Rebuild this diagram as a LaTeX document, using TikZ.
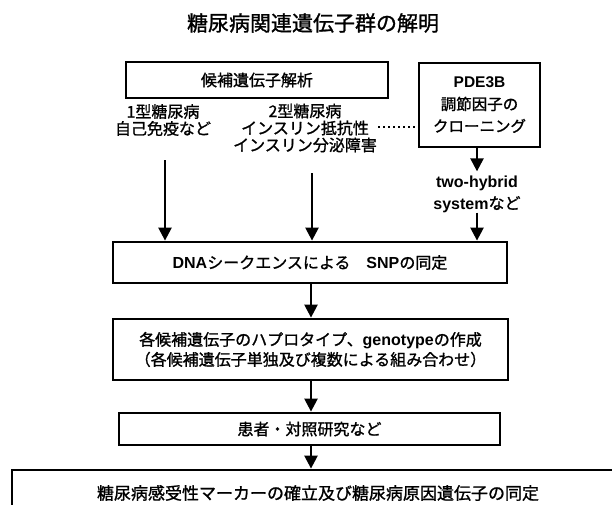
\documentclass[tikz,border=0pt]{standalone}
\usepackage{fontspec}
\setmainfont{Noto Sans CJK JP}[RawFeature={embolden=1.2}]
\newfontfamily\latf{Liberation Sans}
\newcommand\LB[1]{{\latf\bfseries #1}}
\usetikzlibrary{arrows.meta}
\begin{document}
\begin{tikzpicture}[x=1pt,y=-1pt,
  box/.style={draw,line width=2.8pt,inner sep=0pt,align=center,font=\fontsize{16}{20}\selectfont},
  txt/.style={inner sep=0pt,align=center,font=\fontsize{16}{17}\selectfont},
  arr/.style={line width=2.4pt,-{Triangle[width=13pt,length=13pt]}},
  dotl/.style={line width=2pt,dash pattern=on 2pt off 3pt}]
\useasboundingbox (0,0) rectangle (612,504);
\clip (0,0) rectangle (612,504);
\node[inner sep=0pt,font=\fontsize{21}{24}\selectfont] (title) at (313,23) {糖尿病関連遺伝子群の解明};
\node[box,minimum width=262pt,minimum height=36pt] (cand) at (257,80) {候補遺伝子解析};
\node[box,minimum width=121pt,minimum height=84pt,font=\fontsize{15.5}{22}\selectfont] (pde) at (479.5,105) {\LB{PDE3B}\\調節因子の\\クローニング};
\node[txt] (t1) at (163,120) {1型糖尿病\\自己免疫など};
\node[txt] (t2) at (305,128) {2型糖尿病\\インスリン抵抗性\\インスリン分泌障害};
\node[txt,font=\fontsize{16}{22}\selectfont] (hyb) at (477,194) {\LB{two-hybrid}\\\LB{system}など};
\node[box,minimum width=394pt,minimum height=41pt] (dna) at (310,262.5) {\LB{DNA}シークエンスによる\hspace{1em}\LB{SNP}の同定};
\node[box,minimum width=395pt,minimum height=61pt] (b3) at (310.5,349.5) {各候補遺伝子のハプロタイプ、\LB{genotype}の作成\\（各候補遺伝子単独及び複数による組み合わせ）};
\node[box,minimum width=381pt,minimum height=32pt] (b4) at (309.5,429) {患者・対照研究など};
\node[box,minimum width=612pt,minimum height=46pt,font=\fontsize{17}{20}\selectfont] (b5) at (318,493) {糖尿病感受性マーカーの確立及び糖尿病原因遺伝子の同定};
\coordinate (d1) at (378,127);
\draw[dotl] (d1) -- (d1 -| pde.west);
\coordinate (a1) at (165,160);
\coordinate (a2) at (312,173);
\coordinate (a3) at (477,0);
\coordinate (a4) at (311,0);
\draw[arr] (a1) -- (a1 |- dna.north);
\draw[arr] (a2) -- (a2 |- dna.north);
\draw[arr,shorten >=4pt] (pde.south -| a3) -- (a3 |- hyb.north);
\draw[arr] (hyb.south -| a3) -- (a3 |- dna.north);
\draw[arr] (dna.south -| a4) -- (b3.north -| a4);
\draw[arr] (b3.south -| a4) -- (b4.north -| a4);
\draw[arr] (b4.south -| a4) -- (b5.north -| a4);
\end{tikzpicture}
\end{document}
